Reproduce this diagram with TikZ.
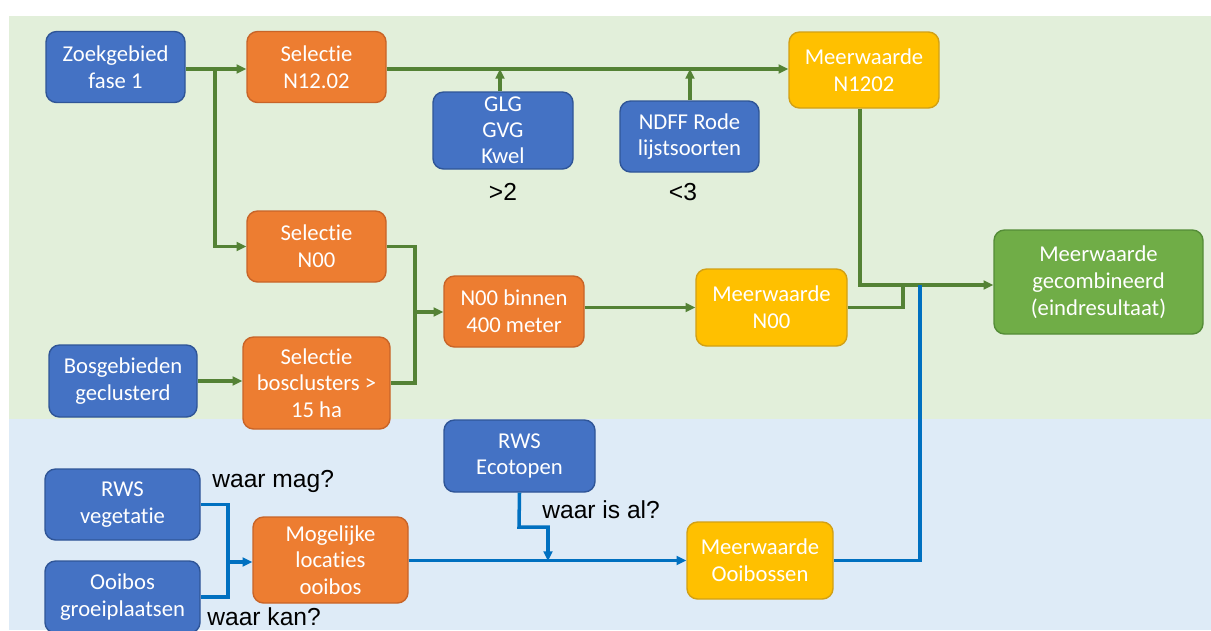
\documentclass[tikz,border=0pt]{standalone}
\usepackage{fontspec}
\newfontfamily\carl[Ligatures=NoCommon]{Carlito}
\newfontfamily\arl{Liberation Sans}
\usetikzlibrary{arrows.meta}
\definecolor{bggreen}{RGB}{226,239,218}
\definecolor{bgblue}{RGB}{222,235,247}
\definecolor{bxblue}{RGB}{68,114,196}
\definecolor{bxblueD}{RGB}{47,85,151}
\definecolor{bxorange}{RGB}{237,125,49}
\definecolor{bxorangeD}{RGB}{200,100,40}
\definecolor{bxyellow}{RGB}{255,192,0}
\definecolor{bxyellowD}{RGB}{210,160,20}
\definecolor{bxgreen}{RGB}{112,173,71}
\definecolor{bxgreenD}{RGB}{84,140,55}
\definecolor{lgreen}{RGB}{84,130,53}
\definecolor{lblue}{RGB}{0,112,192}
\tikzset{
  px/.style={x=0.02cm,y=-0.02cm},
  box/.style={rounded corners=6pt, line width=0.8pt, text=white, align=center, inner sep=0pt,
    font=\carl\fontsize{12.9}{15.2}\selectfont},
  bbox/.style={box, fill=bxblue, draw=bxblueD},
  obox/.style={box, fill=bxorange, draw=bxorangeD},
  ybox/.style={box, fill=bxyellow, draw=bxyellowD},
  gbox/.style={box, fill=bxgreen, draw=bxgreenD},
  sz/.style 2 args={minimum width=#1*0.02cm, minimum height=#2*0.02cm},
  gline/.style={draw=lgreen, line width=2pt, -{Triangle[length=5.5pt,width=5pt]}},
  gplain/.style={draw=lgreen, line width=2pt},
  bline/.style={draw=lblue, line width=2pt, -{Triangle[length=5.5pt,width=5pt]}},
  bplain/.style={draw=lblue, line width=2pt},
  lab/.style={font=\arl\fontsize{14}{16}\selectfont, text=black, inner sep=0pt},
}
\begin{document}
\begin{tikzpicture}[px]
\useasboundingbox (0,0) rectangle (1211,630);
\fill[white] (0,0) rectangle (1211,630);
\fill[bggreen] (9,16) rectangle (1211,419);
\fill[bgblue] (9,419) rectangle (1211,630);

\begin{scope}
\clip (0,0) rectangle (1211,630);
% nodes
\node[bbox, sz={139}{71}] (zoek) at (115.5,67) {Zoekgebied\\fase 1};
\node[obox, sz={139}{71}] (sel1) at (316.5,67) {Selectie\\N12.02};
\node[bbox, sz={140}{77}] (glg) at (503,130.5) {GLG\\[-0.5pt]GVG\\[-0.5pt]Kwel};
\node[bbox, sz={139}{71}] (ndff) at (689.5,136.5) {NDFF Rode\\lijstsoorten};
\node[ybox, sz={150}{76}] (mw1) at (864,70) {Meerwaarde\\N1202};
\node[gbox, sz={209}{104}] (comb) at (1098.5,282) {Meerwaarde\\gecombineerd\\(eindresultaat)};
\node[obox, sz={139}{71}] (sel00) at (316.5,246.5) {Selectie\\N00};
\node[bbox, sz={148}{72}] (bos) at (123,381) {Bosgebieden\\geclusterd};
\node[obox, sz={147}{92}] (selbos) at (316.5,383) {Selectie\\bosclusters >\\15 ha};
\node[obox, sz={140}{71}] (n00b) at (514,311.5) {N00 binnen\\400 meter};
\node[ybox, sz={151}{77}] (mw00) at (771.5,307.5) {Meerwaarde\\N00};
\node[bbox, sz={151}{72}] (rwse) at (519.5,456) {RWS\\Ecotopen};
\node[ybox, sz={146}{77}] (mwooi) at (760,560.5) {Meerwaarde\\Ooibossen};
\node[bbox, sz={155}{71}] (rwsv) at (122.5,504.5) {RWS\\vegetatie};
\node[bbox, sz={155}{72}] (ooib) at (122.5,597) {Ooibos\\groeiplaatsen};
\node[obox, sz={155}{86}] (mog) at (330.5,560) {Mogelijke\\locaties\\ooibos};
\end{scope}

% labels
\node[lab] (l2) at (503,192) {>2};
\node[lab] (l3) at (683,192) {<3};
\node[lab, anchor=west] (lmag) at (212,481) {waar mag?};
\node[lab, anchor=west] (lkan) at (207,617) {waar kan?};
\node[lab, anchor=west] (lal) at (542,510) {waar is al?};

% coordinates
\coordinate (j1) at (215,69);
\coordinate (j2) at (500,69);
\coordinate (j3) at (690,69);
\coordinate (j4) at (415,312);
\coordinate (j5) at (860,285);
\coordinate (j6) at (903,285);
\coordinate (j7) at (920,285);
\coordinate (j8) at (228,562);
\coordinate (j9) at (548,561);

% green connectors
\draw[gline] (zoek.east |- j1) -- (sel1.west |- j1);
\draw[gline] (j1) |- (sel00.west);
\draw[gline] (sel1.east |- j1) -- (mw1.west |- j1);
\draw[gline] (glg.north -| j2) -- (j2);
\draw[gline] (ndff.north -| j3) -- (j3);
\draw[gplain] (sel00.east) -| (j4) -- (j4 |- selbos.east) -- (selbos.east);
\draw[gline] (j4) -- (n00b.west |- j4);
\draw[gline] (n00b.east |- mw00.west) -- (mw00.west);
\draw[gline] (mw1.south -| j5) -- (j5) -- (comb.west |- j5);
\draw[gplain] (mw00.east) -| (j6);
\draw[gline] (bos.east) -- (selbos.west |- bos.east);

% blue connectors
\draw[bplain] (mwooi.east) -| (j7);
\draw[bplain] (rwsv.east) -| (j8 |- ooib.east) -- (ooib.east);
\draw[bline] (j8) -- (mog.west |- j8);
\draw[bline] (mog.east |- mwooi.west) -- (mwooi.west);
\draw[bline] (rwse.south) -- (519,527) -| (j9);
\end{tikzpicture}
\end{document}
